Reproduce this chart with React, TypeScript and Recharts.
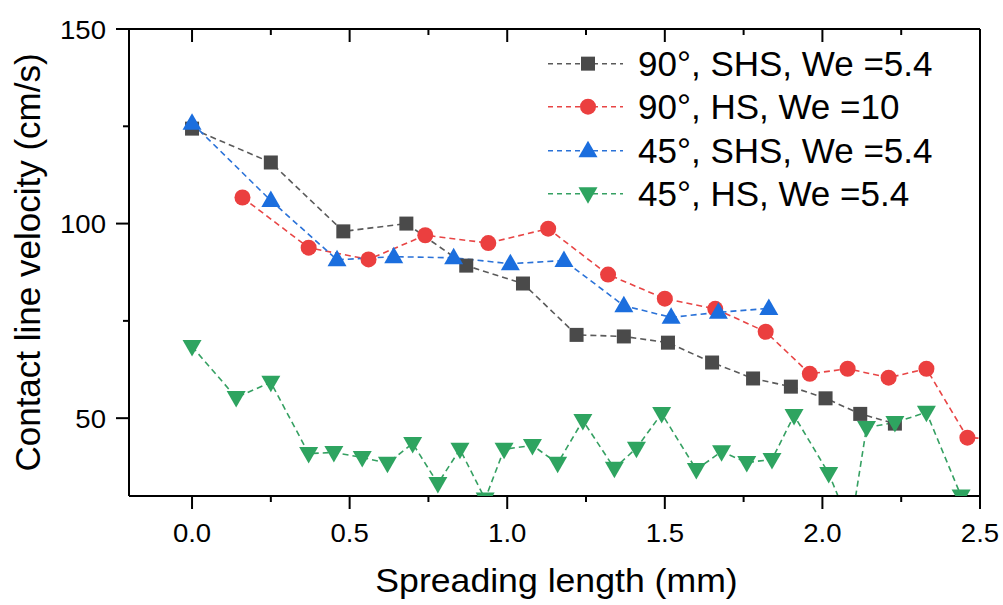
import { LineChart, Line, XAxis, YAxis, Legend } from 'recharts'

const FONT = '"Liberation Sans", Arial, Helvetica, sans-serif'

// 90°, SHS, We = 5.4
const shs90X = [0, 0.25, 0.48, 0.68, 0.87, 1.05, 1.22, 1.37, 1.51, 1.65, 1.78, 1.9, 2.01, 2.12, 2.23]
const shs90Y = [124.4, 115.7, 98, 100, 89.2, 84.6, 71.4, 71, 69.4, 64.3, 60.2, 58.1, 55.1, 51.1, 48.6]

// 90°, HS, We = 10 (last point sits past the right edge)
const hs90X = [0.16, 0.37, 0.56, 0.74, 0.94, 1.13, 1.32, 1.5, 1.66, 1.82, 1.96, 2.08, 2.21, 2.33, 2.46, 2.6]
const hs90Y = [106.7, 93.8, 90.8, 97, 95, 98.7, 86.9, 80.7, 78.1, 72.2, 61.4, 62.7, 60.4, 62.7, 45, 44.5]

// 45°, SHS, We = 5.4
const shs45X = [0, 0.25, 0.46, 0.64, 0.83, 1.01, 1.18, 1.37, 1.52, 1.67, 1.83]
const shs45Y = [125.8, 105.9, 90.7, 91.5, 91.2, 89.7, 90.5, 78.9, 75.9, 77.2, 78.2]

// 45°, HS, We = 5.4
const hs45X = [0, 0.14, 0.25, 0.37, 0.45, 0.54, 0.62, 0.7, 0.78, 0.85, 0.93, 0.99, 1.08, 1.16, 1.24,
  1.34, 1.41, 1.49, 1.6, 1.68, 1.76, 1.84, 1.91, 2.02, 2.09, 2.14, 2.23, 2.33, 2.44]
const hs45Y = [68.4, 55.3, 59.2, 40.9, 41.2, 39.9, 38.4, 43.5, 33.2, 42, 29.2, 42, 43, 38.4, 49.4,
  37.1, 42.3, 51.2, 36.8, 41.4, 38.6, 39.4, 50.7, 35.8, 22, 47.6, 48.9, 51.5, 30]

const xTicks = [0, 0.25, 0.5, 0.75, 1, 1.25, 1.5, 1.75, 2, 2.25, 2.5]
const xMajor = [0, 0.5, 1, 1.5, 2, 2.5]
const yTicks = [50, 75, 100, 125, 150]
const yMajor = [50, 100, 150]

const toPoints = (xs: number[], ys: number[]) => xs.map((x, i) => ({ x, y: ys[i] }))

type Shape = 'square' | 'circle' | 'up' | 'down'

const series: { name: string; color: string; line: string; shape: Shape; data: { x: number; y: number }[] }[] = [
  { name: '90°, SHS, We =5.4', color: '#4a4a4a', line: '#5a5a5a', shape: 'square', data: toPoints(shs90X, shs90Y) },
  { name: '90°, HS, We =10', color: '#eb3f3f', line: '#e84545', shape: 'circle', data: toPoints(hs90X, hs90Y) },
  { name: '45°, SHS, We =5.4', color: '#1b6ede', line: '#2a72d8', shape: 'up', data: toPoints(shs45X, shs45Y) },
  { name: '45°, HS, We =5.4', color: '#2ea460', line: '#35a062', shape: 'down', data: toPoints(hs45X, hs45Y) },
]

function Marker({ cx, cy, shape, color }: { cx: number; cy: number; shape: Shape; color: string }) {
  if (shape === 'square') return <rect x={cx - 7} y={cy - 7} width={14} height={14} fill={color} />
  if (shape === 'circle') return <circle cx={cx} cy={cy} r={8} fill={color} />
  if (shape === 'up')
    return <polygon points={`${cx},${cy - 10} ${cx - 9.5},${cy + 6.5} ${cx + 9.5},${cy + 6.5}`} fill={color} />
  return <polygon points={`${cx - 9.5},${cy - 6.5} ${cx + 9.5},${cy - 6.5} ${cx},${cy + 10}`} fill={color} />
}

const isMajor = (list: number[], v: number) => list.some((m) => Math.abs(m - v) < 1e-6)

function BottomTick({ x, y, payload }: any) {
  const major = isMajor(xMajor, payload.value)
  return (
    <g>
      <line x1={x} x2={x} y1={y} y2={y + (major ? 13 : 6)} stroke="#000" strokeWidth={2} />
      {major && (
        <text transform={`translate(${x},${y + 46}) scale(1.06,1)`} textAnchor="middle"
          fontSize={26} fontFamily={FONT} fill="#000">
          {payload.value.toFixed(1)}
        </text>
      )}
    </g>
  )
}

function TopTick({ x, y, payload }: any) {
  const major = isMajor(xMajor, payload.value)
  return <line x1={x} x2={x} y1={y} y2={y + (major ? 13 : 6)} stroke="#000" strokeWidth={2} />
}

function LeftTick({ x, y, payload }: any) {
  const major = isMajor(yMajor, payload.value)
  return (
    <g>
      <line x1={x - (major ? 13 : 6)} x2={x} y1={y} y2={y} stroke="#000" strokeWidth={2} />
      {major && (
        <text transform={`translate(${x - 23},${y + 9.5}) scale(1.06,1)`} textAnchor="end"
          fontSize={26} fontFamily={FONT} fill="#000">
          {payload.value}
        </text>
      )}
    </g>
  )
}

function LegendBox() {
  return (
    <div style={{ fontFamily: FONT, fontSize: 35, color: '#000' }}>
      {series.map((s) => (
        <div key={s.name} style={{ display: 'flex', alignItems: 'center', height: 43.3, lineHeight: '43.3px', whiteSpace: 'nowrap' }}>
          <svg width={90} height={43.3} style={{ flex: 'none' }}>
            <line x1={0} x2={75} y1={21.65} y2={21.65} stroke={s.line} strokeWidth={1.5} strokeDasharray="5 4" />
            <Marker cx={40} cy={21.65} shape={s.shape} color={s.color} />
          </svg>
          <span>{s.name}</span>
        </div>
      ))}
    </div>
  )
}

export default function App() {
  return (
    <div style={{ position: 'absolute', left: 0, top: 0, width: 1003, height: 605, background: '#fff' }}>
      <LineChart width={1003} height={605} margin={{ top: 28, right: 22, bottom: 108, left: 128 }}>
        <XAxis dataKey="x" type="number" domain={[-0.2, 2.5]} ticks={xTicks} interval={0} allowDataOverflow
          height={1} tickSize={0} tickMargin={0} tickLine={false} tick={<BottomTick />}
          axisLine={{ stroke: '#000', strokeWidth: 2 }}
          label={{
            content: ({ viewBox }: any) => (
              <text transform={`translate(${viewBox.x + viewBox.width / 2 + 2},${viewBox.y + 96}) scale(1.08,1)`}
                textAnchor="middle" fontSize={33} fontFamily={FONT} fill="#000">
                Spreading length (mm)
              </text>
            ),
          }}
        />
        <XAxis xAxisId="top" orientation="top" dataKey="x" type="number" domain={[-0.2, 2.5]} ticks={xTicks}
          interval={0} allowDataOverflow height={1} tickSize={0} tickMargin={0} tickLine={false}
          tick={<TopTick />} axisLine={{ stroke: '#000', strokeWidth: 2 }} />
        <YAxis type="number" domain={[30, 150]} ticks={yTicks} interval={0} allowDataOverflow width={1}
          tickSize={0} tickMargin={0} tickLine={false} tick={<LeftTick />}
          axisLine={{ stroke: '#000', strokeWidth: 2 }}
          label={{
            content: ({ viewBox }: any) => (
              <text transform={`translate(${viewBox.x + viewBox.width - 89},${viewBox.y + viewBox.height / 2}) rotate(-90)`}
                textAnchor="middle" fontSize={35} fontFamily={FONT} fill="#000">
                Contact line velocity (cm/s)
              </text>
            ),
          }}
        />
        <YAxis yAxisId="right" orientation="right" type="number" domain={[30, 150]} ticks={yTicks}
          allowDataOverflow width={1} tick={false} tickLine={false} axisLine={{ stroke: '#000', strokeWidth: 2 }} />
        {series.map((s) => (
          <Line key={s.name} data={s.data} dataKey="y" name={s.name} type="linear" stroke={s.line}
            strokeWidth={1.6} strokeDasharray="6 4" isAnimationActive={false}
            dot={(p: any) => <Marker key={`${s.name}-${p.index}`} cx={p.cx} cy={p.cy} shape={s.shape} color={s.color} />}
            activeDot={false} />
        ))}
        <Legend verticalAlign="middle" align="center" layout="horizontal"
          wrapperStyle={{ left: 548, top: 42, width: 440 }} content={() => <LegendBox />} />
      </LineChart>
    </div>
  )
}
